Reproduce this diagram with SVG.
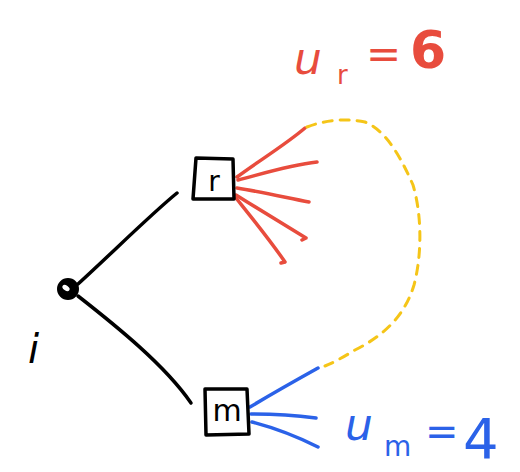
<svg xmlns="http://www.w3.org/2000/svg" width="520" height="472" viewBox="0 0 520 472">
<style>
.k{fill:none;stroke:#000;stroke-width:3.5;stroke-linecap:round;stroke-linejoin:round}
.r{fill:none;stroke:#e84c3d;stroke-width:3.5;stroke-linecap:round;stroke-linejoin:round}
.b{fill:none;stroke:#2b62e8;stroke-width:3.5;stroke-linecap:round;stroke-linejoin:round}
.y{fill:none;stroke:#f5c518;stroke-width:3;stroke-linecap:round;stroke-dasharray:9 8}
.t{font-family:"DejaVu Sans","Liberation Sans",sans-serif}
</style>
<rect width="520" height="472" fill="#fff"/>
<g id="connectors">
<path class="k" d="M78,284 C110,255 150,215 177,193"/>
<path class="k" d="M78,296 C115,325 165,365 191,403"/>
<path class="r" d="M237,177 C260,160 285,145 305,128"/>
<path class="r" d="M238,180 C265,173 290,165 317,162"/>
<path class="r" d="M237,188 C262,192 288,198 309,202"/>
<path class="r" d="M236,195 C260,210 285,225 306,238 L302,240"/>
<path class="r" d="M236,198 C252,218 270,240 285,262 L281,263"/>
<path class="b" d="M250,407 C275,392 300,378 318,368"/>
<path class="b" d="M251,414 C275,414 300,416 316,418"/>
<path class="b" d="M252,422 C275,428 300,438 318,447"/>
<path class="y" d="M307,127 C325,120 345,118 365,122 C385,130 400,155 413,185 C422,215 422,255 414,285 C405,315 385,335 355,350 C345,356 335,362 325,366"/>
</g>
<g id="node-i">
<circle cx="68" cy="289" r="9" fill="#000" stroke="#000" stroke-width="4"/>
<ellipse cx="66" cy="288" rx="4" ry="2.5" fill="#fff" transform="rotate(35 66 288)"/>
<text class="t" x="28" y="363" font-size="40" font-style="italic" fill="#000">i</text>
</g>
<g id="node-r">
<path class="k" d="M196,158 L233,159 L234,199 L193,199 Z"/>
<text class="t" x="214" y="191" font-size="28" text-anchor="middle" fill="#000">r</text>
</g>
<g id="node-m">
<path class="k" d="M205,389 L247,389 L249,434 L206,435 Z"/>
<text class="t" x="227" y="421" font-size="30" text-anchor="middle" fill="#000">m</text>
</g>
<g id="label-ur">
<text class="t" x="294" y="74" font-size="44" font-style="italic" fill="#e84c3d">u</text>
<text class="t" x="337" y="84" font-size="26" fill="#e84c3d">r</text>
<text class="t" x="366" y="68" font-size="42" fill="#e84c3d">=</text>
<text class="t" x="410" y="68" font-size="52" font-weight="bold" fill="#e84c3d">6</text>
</g>
<g id="label-um">
<text class="t" x="345" y="440" font-size="44" font-style="italic" fill="#2b62e8">u</text>
<text class="t" x="384" y="456" font-size="28" fill="#2b62e8">m</text>
<text class="t" x="425" y="445" font-size="40" fill="#2b62e8">=</text>
<text class="t" x="463" y="458" font-size="56" fill="#2b62e8">4</text>
</g>
</svg>
